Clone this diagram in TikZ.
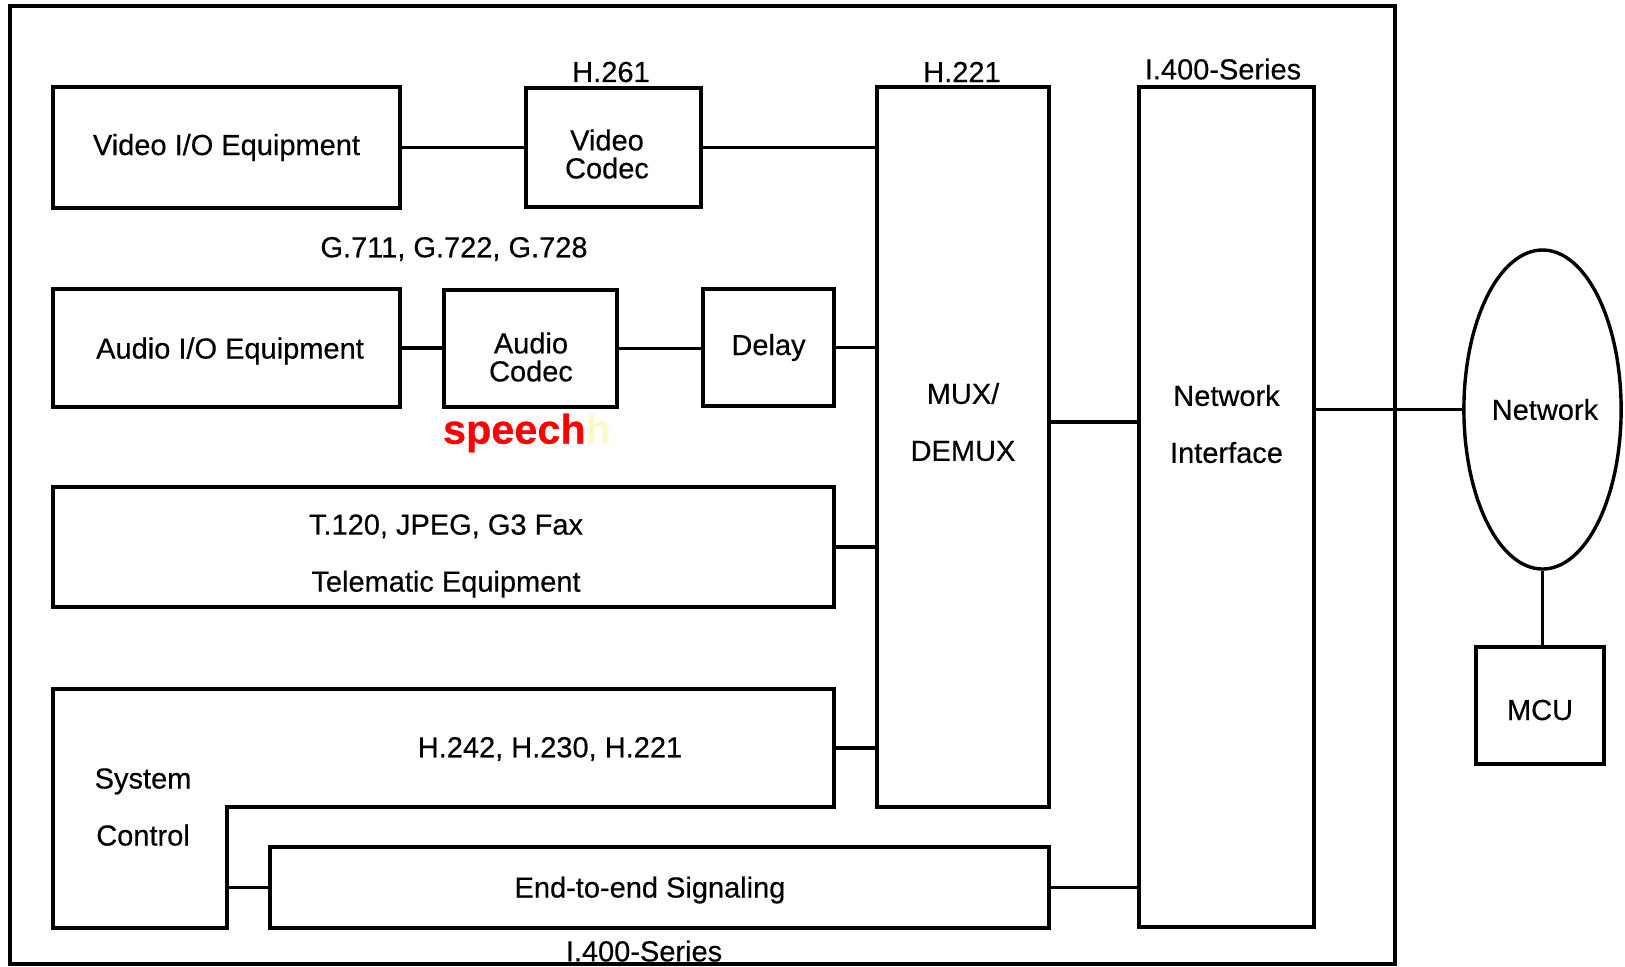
\documentclass[tikz,border=0pt]{standalone}
\usepackage{fontspec}
\setmainfont{Liberation Sans}[FakeBold=0.4]
\usepackage{tikz}
\usetikzlibrary{positioning, calc}
\usetikzlibrary{shapes.geometric}

\begin{document}
\begin{tikzpicture}[x=0.5pt,y=-0.5pt,line width=1.7pt]
\definecolor{speechred}{RGB}{255,0,0};
\definecolor{paleyellow}{RGB}{250,250,200};
\useasboundingbox (0,0) rectangle (1625,966);
\tikzstyle{box}=[draw, rectangle, inner sep=0pt, outer sep=0pt,
                 align=center, font=\fontsize{14.5}{14}\selectfont];
\tikzstyle{txt}=[inner sep=0pt, align=center,
                 font=\fontsize{14.5}{28.5}\selectfont];
\draw (10,6) rectangle (1395,964);
% video row
\node [box, minimum width=173.5pt, minimum height=60.5pt] (vio) at (226.5,147.5) {Video I/O Equipment};
\node [box, minimum width=87.5pt, minimum height=59.5pt] (vcodec) at (613.5,147.5) {};
\node [txt, font=\fontsize{14.5}{14}\selectfont] (vctxt) at (607,154) {Video\\Codec};
\node [txt] (h261) at (611,72) {H.261};
% audio row
\node [txt] (gseries) at (454,249) {G.711, G.722, G.728};
\node [box, minimum width=173.5pt, minimum height=59pt] (aio) at (226.5,348) {};
\node [txt] (aiotxt) at (230,351) {Audio I/O Equipment};
\node [box, minimum width=86.5pt, minimum height=58.5pt] (acodec) at (530.5,348.5) {};
\node [txt, font=\fontsize{14.5}{14}\selectfont] (actxt) at (531,357) {Audio\\Codec};
\node [box, minimum width=65.5pt, minimum height=58.5pt] (delay) at (768.5,347.5) {Delay};
\node [inner sep=0pt, font=\fontsize{20.7}{24}\selectfont\bfseries] (speech) at (527,433)
      {\textcolor{speechred}{speech}\textcolor{paleyellow}{h}};
% telematic
\node [box, minimum width=390.5pt, minimum height=60pt] (tele) at (443.5,547) {};
\node [txt] (teletxt) at (446,556) {T.120, JPEG, G3 Fax\\Telematic Equipment};
% system control
\draw (53,689) -- (834,689) -- (834,807) -- (227,807) -- (227,928) -- (53,928) -- cycle;
\coordinate (scr) at (834,748);
\coordinate (scl) at (227,887.5);
\node [txt] (hseries) at (550,749) {H.242, H.230, H.221};
\node [txt, anchor=west] (sysctl) at (93,807) {System\\Control};
% end-to-end
\node [box, minimum width=389.5pt, minimum height=40.5pt] (e2e) at (659.5,887.5) {};
\node [txt] (e2etxt) at (650,890) {End-to-end Signaling};
\node [txt] (i400b) at (644,951) {I.400-Series};
% mux and network interface
\node [box, minimum width=86pt, minimum height=360pt] (mux) at (963,447) {};
\node [txt] (muxtxt) at (963,422) {MUX/\\DEMUX};
\node [txt] (h221) at (962,72) {H.221};
\node [box, minimum width=87.5pt, minimum height=420pt] (ni) at (1226.5,507) {};
\node [txt] (nitxt) at (1226.5,424) {Network\\Interface};
\node [txt] (i400t) at (1223,69) {I.400-Series};
% network side
\node [draw, ellipse, inner sep=0pt, minimum width=76.5pt, minimum height=159.5pt,
       font=\fontsize{14.5}{17}\selectfont] (net) at (1542.5,409.5) {\,Network};
\node [box, minimum width=64pt, minimum height=58.5pt] (mcu) at (1540,705.5) {};
\node [txt] (mcutxt) at (1540,710) {MCU};
% links
\draw (vio.east) -- (vcodec.west);
\draw (vcodec.east) -- (vcodec.east -| mux.west);
\draw (aio.east) -- (aio.east -| acodec.west);
\draw (acodec.east) -- (acodec.east -| delay.west);
\draw (delay.east) -- (delay.east -| mux.west);
\draw (tele.east) -- (tele.east -| mux.west);
\draw (scr) -- (scr -| mux.west);
\draw (scl) -- (e2e.west);
\draw (e2e.east) -- (e2e.east -| ni.west);
\draw (muxtxt -| mux.east) -- (muxtxt -| ni.west);
\draw (net.west -| ni.east) -- (net.west);
\draw (net.south) -- (net.south |- mcu.north);
\end{tikzpicture}
\end{document}
